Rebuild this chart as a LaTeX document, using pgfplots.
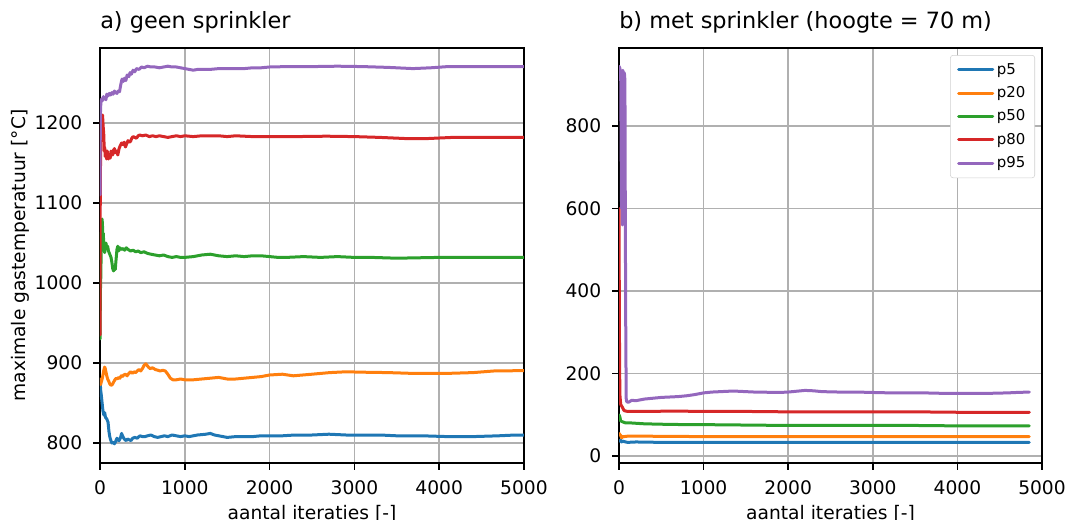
\documentclass[border=0pt]{standalone}
\usepackage{pgfplots}
\pgfplotsset{compat=1.18}
\usepackage{fontspec}
\setmainfont{DejaVu Sans}
\definecolor{c1}{HTML}{1F77B4}
\definecolor{c2}{HTML}{FF7F0E}
\definecolor{c3}{HTML}{2CA02C}
\definecolor{c4}{HTML}{D62728}
\definecolor{c5}{HTML}{9467BD}
\definecolor{gridc}{HTML}{B0B0B0}
\pgfplotsset{
  mpl/.style={
    scale only axis,
    height=311.25pt,
    xmin=0, xmax=5000,
    xtick={0,1000,2000,3000,4000,5000},
    scaled x ticks=false,
    tick pos=left,
    /pgf/number format/assume math mode=true,
    /pgf/number format/1000 sep={},
    tick align=outside,
    major tick length=4.9pt,
    xticklabel shift=4.9pt,
    yticklabel shift=4.9pt,
    tick style={line width=1.1pt, black},
    axis line style={line width=1.1pt},
    grid=major,
    major grid style={line width=1.1pt, gridc},
    tick label style={font=\fontsize{14}{16}\selectfont},
    label style={font=\fontsize{14}{16}\selectfont},
    title style={at={(0,1)}, anchor=base west, yshift=8.4pt, inner sep=0pt, font=\fontsize{16.8}{19}\selectfont},
    xlabel={aantal iteraties [-]},
    xlabel style={at={(axis description cs:0.5,-0.1012)}, anchor=north, inner sep=0pt},
    clip=true,
  },
  ln/.style={line width=2.25pt, line join=round, line cap=round, #1},
}
\begin{document}
\begin{tikzpicture}
\useasboundingbox (0,0) rectangle (801pt,389.25pt);
\begin{axis}[mpl, at={(75pt,42pt)}, anchor=south west, width=318pt,
  ymin=775, ymax=1293.75, ytick={800,900,1000,1100,1200},
  title={a) geen sprinkler},
  ylabel={maximale gastemperatuur [°C]},
  ylabel style={at={(axis description cs:-0.1887,0.5)}, anchor=center, inner sep=0pt}]
% p5
\addplot[ln=c1] coordinates {(0,880) (8,866) (15,860) (25,850) (35,840) (45,835) (55,838) (65,832) (80,830) (95,826) (105,815) (115,808) (125,804) (140,800) (155,801) (170,799) (185,802) (200,806) (210,804) (225,803) (240,806) (255,812) (265,809) (280,806) (295,804) (310,803) (325,805) (345,804) (365,803) (385,806) (410,807) (440,806) (470,809) (500,808) (530,808) (560,809) (600,810) (640,808) (680,807) (720,808) (760,809) (800,808) (850,810) (900,809) (950,808) (1000,809) (1050,808) (1100,809) (1150,810) (1250,811) (1300,812) (1350,810) (1400,809) (1450,808) (1500,807) (1600,808) (1700,808) (1800,808) (1900,809) (2000,809) (2150,809) (2300,810) (2500,810) (2700,811) (2900,810) (3100,810) (3300,810) (3500,809) (3800,809) (4100,808) (4400,808) (4700,809) (4900,810) (5000,810)};
% p20
\addplot[ln=c2] coordinates {(0,880) (8,873) (15,876) (25,880) (35,885) (45,891) (55,895) (62,893) (70,889) (80,884) (90,880) (100,878) (115,874) (130,872) (145,873) (160,876) (175,879) (190,881) (205,880) (220,882) (235,881) (250,884) (265,883) (280,885) (300,886) (320,884) (340,887) (360,889) (380,887) (400,889) (420,888) (440,890) (460,892) (480,890) (500,893) (520,897) (540,899) (555,897) (570,895) (590,893) (620,894) (650,892) (680,891) (710,890) (740,891) (770,890) (800,886) (830,881) (860,879) (900,879) (950,880) (1000,879) (1100,879) (1200,880) (1300,881) (1400,882) (1500,880) (1600,880) (1700,881) (1800,882) (1900,883) (2000,885) (2150,886) (2280,884) (2500,886) (2710,888) (2900,889) (3100,888.5) (3400,888) (3690,887) (4090,887) (4400,888) (4640,890) (5000,890.5)};
% p50
\addplot[ln=c3] coordinates {(0,930) (5,990) (10,1010) (15,1050) (20,1075) (25,1080) (30,1070) (35,1055) (40,1062) (45,1040) (50,1046) (55,1038) (60,1042) (70,1050) (80,1044) (90,1046) (100,1040) (115,1036) (130,1032) (140,1026) (150,1018) (160,1015) (170,1020) (180,1017) (190,1030) (200,1042) (210,1046) (220,1040) (235,1044) (250,1042) (270,1043) (290,1041) (310,1044) (330,1042) (360,1040) (390,1041) (420,1039) (450,1040) (480,1038) (520,1039) (560,1037) (600,1036) (650,1035) (700,1034) (750,1035) (800,1033) (850,1032) (900,1033) (950,1032) (1000,1032) (1100,1033) (1200,1035) (1300,1036) (1400,1034) (1500,1033) (1600,1034) (1700,1033) (1800,1034) (1900,1034) (2000,1033) (2100,1032) (2200,1032) (2400,1033) (2600,1032) (2800,1033) (3000,1032) (3200,1032) (3500,1031) (4000,1032) (4500,1032) (5000,1032)};
% p80
\addplot[ln=c4] coordinates {(0,935) (3,1100) (8,1180) (15,1200) (22,1208) (30,1210) (38,1195) (45,1185) (50,1165) (55,1170) (62,1158) (70,1162) (78,1155) (85,1165) (92,1160) (100,1155) (110,1160) (120,1156) (130,1165) (140,1162) (150,1160) (160,1166) (170,1168) (180,1163) (195,1165) (210,1160) (225,1168) (240,1172) (255,1175) (270,1173) (285,1176) (300,1170) (315,1174) (330,1178) (345,1176) (360,1177) (375,1181) (390,1183) (410,1182) (430,1181) (450,1184) (470,1185) (500,1184) (540,1185) (580,1183) (620,1184) (660,1183) (700,1184) (750,1183) (800,1182) (850,1183) (900,1184) (950,1183) (1000,1184) (1100,1183) (1200,1184) (1300,1184) (1400,1184) (1500,1183) (1600,1184) (1800,1183) (2000,1183) (2300,1183) (2670,1183.5) (3000,1183) (3300,1182) (3615,1180.5) (3850,1180.5) (4160,1182) (4500,1182) (5000,1182)};
% p95
\addplot[ln=c5] coordinates {(0,1110) (3,1180) (6,1215) (10,1225) (20,1230) (30,1228) (40,1233) (50,1230) (60,1232) (70,1229) (80,1236) (95,1234) (110,1237) (125,1235) (140,1238) (155,1236) (170,1240) (185,1238) (200,1237) (215,1240) (230,1239) (245,1248) (260,1255) (275,1252) (290,1256) (305,1253) (320,1260) (340,1258) (355,1263) (370,1261) (390,1266) (410,1264) (430,1268) (460,1267) (490,1270) (520,1269) (560,1271) (600,1270) (650,1270) (700,1269) (750,1270) (800,1271) (850,1270) (900,1270) (950,1269) (1000,1268) (1050,1267) (1100,1266) (1150,1267) (1200,1267) (1300,1267) (1400,1268) (1500,1268) (1600,1268) (1700,1268) (1800,1269) (1900,1269) (2000,1270) (2200,1270.5) (2500,1270.5) (2800,1271) (3100,1270.5) (3400,1269.5) (3690,1268) (3900,1269) (4100,1270.5) (4500,1270.5) (5000,1270.5)};
\end{axis}
\begin{axis}[mpl, at={(464.25pt,42pt)}, anchor=south west, width=317.25pt,
  ymin=-17, ymax=989, ytick={0,200,400,600,800},
  title={b) met sprinkler (hoogte = 70 m)},
  legend cell align=left,
  legend style={at={(1,1)}, anchor=north east, xshift=-5.25pt, yshift=-5.25pt,
    font=\fontsize{11.2}{13}\selectfont, draw=gridc!60, rounded corners=2pt,
    row sep=3.75pt, inner xsep=5pt, inner ysep=4pt},
  legend image code/.code={\draw[#1, line width=2.25pt] (0cm,0cm) -- (0.9cm,0cm);}]
\addplot[ln=c1] coordinates {(0,38) (10,36) (20,39) (30,34) (45,36) (60,35) (80,34) (100,33) (200,34) (500,33) (1000,33) (2000,33) (3000,33) (4850,33)};
\addlegendentry{p5}
\addplot[ln=c2] coordinates {(0,55) (10,52) (20,50) (30,44) (45,47) (60,47) (100,48) (300,48) (1000,47) (2000,47) (3000,47) (4850,47)};
\addlegendentry{p20}
\addplot[ln=c3] coordinates {(0,100) (10,95) (20,85) (40,83) (80,80) (150,80) (300,78) (500,77) (800,76) (1000,76) (1500,75) (2000,74) (2500,74) (3000,74) (3500,74) (4000,73) (4850,73)};
\addlegendentry{p50}
\addplot[ln=c4] coordinates {(0,600) (5,300) (10,150) (20,125) (40,118) (60,110) (100,108) (200,108) (400,108) (600,109) (1000,108) (1500,108) (2000,107) (2500,107) (3000,107) (3500,107) (4000,106) (4850,106)};
\addlegendentry{p80}
\addplot[ln=c5] coordinates {(0,945) (10,940) (20,930) (30,600) (35,900) (40,560) (45,935) (50,920) (55,700) (60,930) (65,925) (70,910) (75,560) (80,300) (85,140) (90,132) (110,130) (150,135) (200,134) (300,138) (400,140) (500,142) (600,143) (700,144) (800,146) (900,149) (1000,153) (1100,155) (1200,156) (1300,157) (1400,157) (1500,156) (1600,155) (1700,155) (1800,154) (1900,154) (2000,155) (2100,157) (2200,159) (2300,158) (2400,156) (2600,155) (2800,155) (3000,154) (3200,153) (3400,153) (3600,153) (3800,152) (4000,152) (4200,152) (4400,152) (4600,153) (4700,154) (4850,155)};
\addlegendentry{p95}
\end{axis}
\end{tikzpicture}
\end{document}
